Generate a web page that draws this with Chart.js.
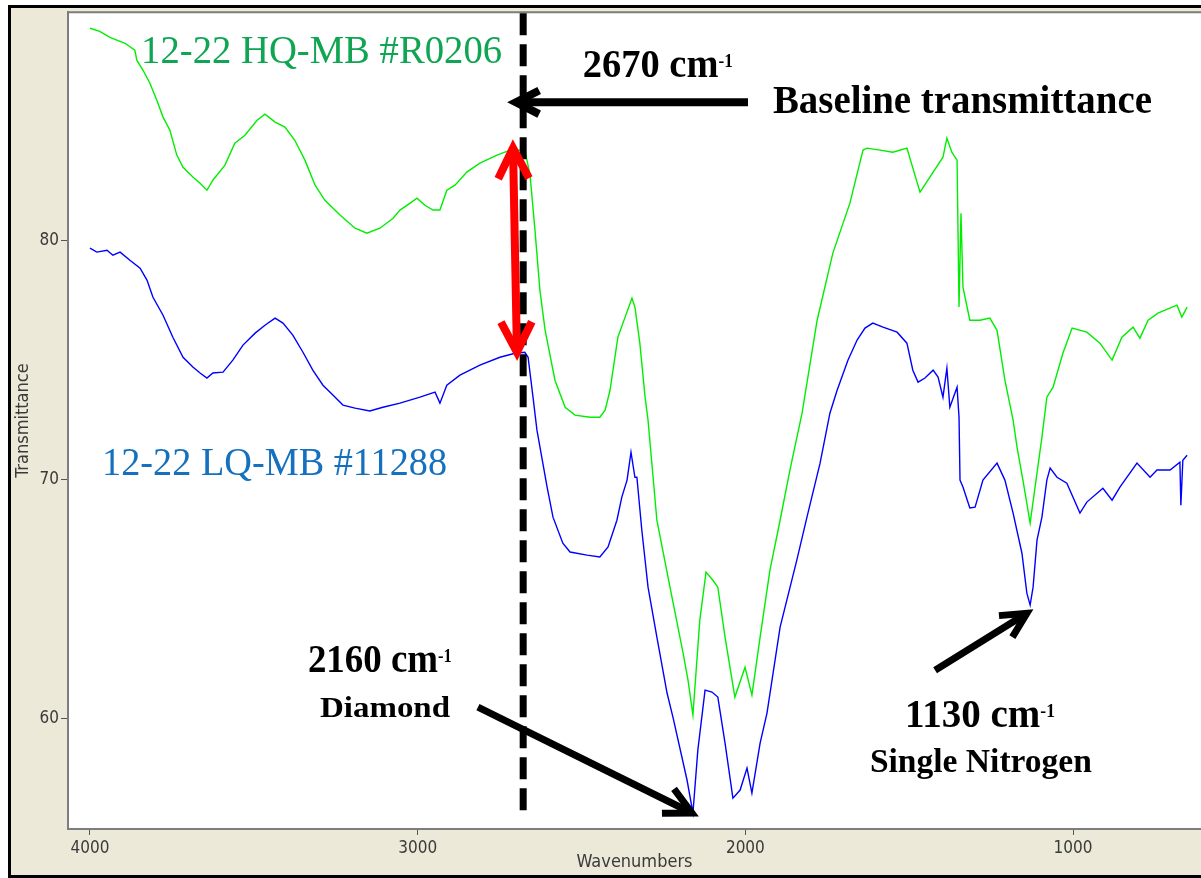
<!DOCTYPE html>
<html>
<head>
<meta charset="utf-8">
<title>FTIR spectra</title>
<script src="https://cdn.jsdelivr.net/npm/chart.js@4.4.1/dist/chart.umd.min.js"></script>
<style>
  html, body { margin: 0; padding: 0; background: #fff; }
  #frame { position: absolute; left: 8px; top: 5px; width: 1200px; height: 867px; border: 3px solid #000; background: #ECE9D8; }
  #chart6 { position: absolute; left: 0; top: 0; }
</style>
</head>
<body>
<div id="frame"></div>
<canvas id="chart6" width="1201" height="878"></canvas>
<script>
// values (wavenumber cm-1 / % transmittance)
const hqWavenumbers = [4000, 3970, 3939, 3893, 3863, 3857, 3838, 3817, 3796, 3777, 3756, 3735, 3716, 3686, 3664, 3643, 3625, 3588, 3558, 3527, 3490, 3466, 3435, 3405, 3375, 3344, 3313, 3283, 3237, 3191, 3155, 3115, 3075, 3054, 3023, 3002, 2978, 2953, 2932, 2911, 2886, 2850, 2810, 2758, 2718, 2673, 2657, 2642, 2627, 2611, 2581, 2550, 2520, 2474, 2444, 2428, 2413, 2389, 2367, 2346, 2337, 2322, 2306, 2297, 2270, 2230, 2190, 2175, 2160, 2139, 2120, 2099, 2084, 2062, 2032, 2001, 1980, 1955, 1925, 1894, 1864, 1827, 1781, 1733, 1681, 1641, 1629, 1589, 1550, 1507, 1467, 1397, 1385, 1370, 1354, 1348, 1342, 1336, 1315, 1284, 1254, 1232, 1208, 1183, 1171, 1153, 1131, 1095, 1080, 1061, 1031, 1003, 958, 918, 881, 851, 817, 796, 771, 741, 683, 668, 652];
const hqTransmittance = [88.87, 88.74, 88.49, 88.24, 87.95, 87.53, 87.11, 86.57, 85.86, 85.15, 84.60, 83.56, 83.05, 82.64, 82.38, 82.09, 82.51, 83.14, 84.06, 84.39, 85.02, 85.27, 84.94, 84.73, 84.18, 83.35, 82.30, 81.67, 81.05, 80.50, 80.29, 80.50, 80.92, 81.26, 81.55, 81.76, 81.46, 81.26, 81.26, 82.09, 82.30, 82.85, 83.22, 83.56, 83.77, 83.77, 82.72, 80.42, 77.91, 76.23, 74.14, 73.01, 72.68, 72.59, 72.59, 72.89, 73.72, 75.94, 76.78, 77.57, 77.20, 75.69, 73.43, 72.47, 68.28, 65.48, 62.72, 61.59, 60.13, 64.10, 66.11, 65.77, 65.48, 63.39, 60.88, 62.13, 60.96, 63.39, 66.19, 68.28, 70.38, 72.76, 76.65, 79.46, 81.55, 83.77, 83.85, 83.77, 83.68, 83.85, 82.01, 83.47, 84.27, 83.68, 83.35, 77.20, 81.13, 78.03, 76.65, 76.65, 76.74, 76.23, 74.14, 72.47, 71.34, 69.96, 68.16, 71.76, 73.43, 73.85, 75.27, 76.32, 76.15, 75.69, 74.98, 75.94, 76.36, 75.90, 76.65, 76.95, 77.28, 76.78, 77.20];

const lqWavenumbers = [4000, 3979, 3948, 3930, 3908, 3878, 3847, 3826, 3808, 3777, 3747, 3716, 3686, 3664, 3643, 3625, 3594, 3564, 3533, 3496, 3466, 3435, 3411, 3381, 3350, 3320, 3289, 3258, 3228, 3191, 3146, 3106, 3054, 2993, 2947, 2932, 2911, 2871, 2810, 2749, 2703, 2673, 2663, 2648, 2636, 2605, 2587, 2557, 2535, 2483, 2444, 2419, 2392, 2377, 2361, 2349, 2337, 2331, 2316, 2297, 2270, 2239, 2221, 2178, 2160, 2145, 2123, 2102, 2084, 2062, 2038, 2016, 1995, 1980, 1955, 1934, 1894, 1843, 1812, 1772, 1742, 1720, 1687, 1659, 1635, 1611, 1580, 1537, 1507, 1489, 1473, 1452, 1427, 1412, 1397, 1385, 1376, 1354, 1348, 1345, 1336, 1315, 1299, 1275, 1232, 1208, 1183, 1156, 1141, 1131, 1122, 1110, 1095, 1080, 1070, 1049, 1019, 979, 958, 909, 881, 857, 805, 765, 744, 704, 674, 671, 665, 652];
const lqTransmittance = [79.67, 79.50, 79.58, 79.37, 79.50, 79.16, 78.83, 78.33, 77.62, 76.86, 75.94, 75.10, 74.69, 74.44, 74.23, 74.44, 74.48, 74.98, 75.61, 76.11, 76.44, 76.74, 76.53, 76.03, 75.31, 74.56, 73.93, 73.51, 73.10, 72.97, 72.85, 73.01, 73.18, 73.43, 73.64, 73.18, 73.93, 74.35, 74.77, 75.10, 75.27, 75.31, 75.10, 73.43, 72.05, 69.67, 68.41, 67.32, 66.95, 66.82, 66.74, 67.16, 68.28, 69.25, 69.96, 71.13, 70.08, 70.08, 67.87, 65.48, 63.39, 61.05, 60.04, 57.41, 56.03, 58.66, 61.17, 61.09, 60.88, 58.95, 56.65, 56.99, 57.91, 56.86, 58.95, 60.21, 63.81, 66.61, 68.41, 70.67, 72.76, 73.72, 74.98, 75.82, 76.32, 76.53, 76.36, 76.15, 75.69, 74.56, 74.06, 74.23, 74.56, 74.27, 73.43, 74.64, 73.01, 73.85, 72.59, 69.96, 69.67, 68.79, 68.83, 69.96, 70.67, 69.96, 68.58, 66.90, 65.23, 64.73, 65.48, 67.45, 68.41, 69.96, 70.46, 70.08, 69.83, 68.58, 69.04, 69.62, 69.12, 69.67, 70.67, 70.08, 70.38, 70.38, 70.71, 68.91, 70.79, 71.00];

const xTicks = [4000, 3000, 2000, 1000];
const yTicks = [60, 70, 80];

const serif = "'Liberation Serif', 'DejaVu Serif', serif";
const narrow = "'Liberation Sans Narrow', 'DejaVu Sans Condensed', Arial, sans-serif";

function toPoints(xs, ys) {
  return xs.map((x, i) => ({ x: x, y: ys[i] }));
}

function arrow(ctx, x1, y1, x2, y2, color, width, headLen, both) {
  ctx.save();
  ctx.strokeStyle = color;
  ctx.lineWidth = width;
  ctx.lineCap = 'butt';
  ctx.lineJoin = 'miter';
  ctx.beginPath();
  ctx.moveTo(x1, y1);
  ctx.lineTo(x2, y2);
  ctx.stroke();
  const head = (tx, ty, fx, fy) => {
    const a = Math.atan2(fy - ty, fx - tx);
    const s = 0.47;
    ctx.beginPath();
    ctx.moveTo(tx + headLen * Math.cos(a - s), ty + headLen * Math.sin(a - s));
    ctx.lineTo(tx, ty);
    ctx.lineTo(tx + headLen * Math.cos(a + s), ty + headLen * Math.sin(a + s));
    ctx.stroke();
  };
  head(x2, y2, x1, y1);
  if (both) head(x1, y1, x2, y2);
  ctx.restore();
}

// draws a run of text parts starting at x, baseline y, squeezed to the given width
function label(ctx, parts, x, y, width, color) {
  ctx.save();
  ctx.fillStyle = color;
  ctx.textBaseline = 'alphabetic';
  ctx.textAlign = 'left';
  let total = 0;
  parts.forEach(p => { ctx.font = p.font; p.w = ctx.measureText(p.text).width; total += p.w; });
  ctx.translate(x, y);
  ctx.scale(width / total, 1);
  let cx = 0;
  parts.forEach(p => { ctx.font = p.font; ctx.fillText(p.text, cx, -(p.rise || 0)); cx += p.w; });
  ctx.restore();
}

const notes = {
  id: 'notes',
  beforeDraw(chart) {
    const { ctx, chartArea: a } = chart;
    ctx.save();
    ctx.fillStyle = '#fff';
    ctx.fillRect(a.left, a.top, a.right - a.left, a.bottom - a.top);
    ctx.strokeStyle = '#7d7d7d';
    ctx.lineWidth = 2;
    ctx.beginPath();
    ctx.moveTo(a.left, a.top);
    ctx.lineTo(a.right, a.top);
    ctx.stroke();
    ctx.restore();
  },
  afterDatasetsDraw(chart) {
    const { ctx, chartArea: a } = chart;
    const X = v => chart.scales.x.getPixelForValue(v);
    const Y = v => chart.scales.y.getPixelForValue(v);

    // dashed marker at 2670
    ctx.save();
    ctx.strokeStyle = '#000';
    ctx.lineWidth = 7;
    ctx.setLineDash([22, 9]);
    ctx.beginPath();
    ctx.moveTo(X(2678), a.top + 1);
    ctx.lineTo(X(2678), Y(55.8));
    ctx.stroke();
    ctx.restore();

    arrow(ctx, X(1992), Y(85.77), X(2700), Y(85.77), '#000', 8, 26, false);
    arrow(ctx, X(2709), Y(83.85), X(2697), Y(75.31), '#ff0000', 8, 34, true);
    arrow(ctx, X(2816), Y(60.46), X(2163), Y(56.03), '#000', 7, 30, false);
    arrow(ctx, X(1421), Y(62.0), X(1141), Y(64.39), '#000', 7, 28, false);

    const sup = txt => ({ text: txt, font: 'bold 18px ' + serif, rise: 10 });
    label(ctx, [{ text: '12-22 HQ-MB #R0206', font: '40px ' + serif }], X(3844), Y(87.41), 361, '#10a552');
    label(ctx, [{ text: '12-22 LQ-MB #11288', font: '40px ' + serif }], X(3963), Y(70.17), 345, '#1570be');
    label(ctx, [{ text: '2670 cm', font: 'bold 40px ' + serif }, sup('-1')], X(2496), Y(86.82), 150, '#000');
    label(ctx, [{ text: 'Baseline transmittance', font: 'bold 40px ' + serif }], X(1916), Y(85.31), 379, '#000');
    label(ctx, [{ text: '2160 cm', font: 'bold 40px ' + serif }, sup('-1')], X(3335), Y(61.93), 144, '#000');
    label(ctx, [{ text: 'Diamond', font: 'bold 30px ' + serif }], X(3298), Y(60.04), 130, '#000');
    label(ctx, [{ text: '1130 cm', font: 'bold 40px ' + serif }, sup('-1')], X(1513), Y(59.62), 150, '#000');
    label(ctx, [{ text: 'Single Nitrogen', font: 'bold 34px ' + serif }], X(1620), Y(57.74), 222, '#000');
  }
};

new Chart(document.getElementById('chart6'), {
  type: 'line',
  data: {
    datasets: [{
      label: '12-22 HQ-MB #R0206',
      data: toPoints(hqWavenumbers, hqTransmittance),
      borderColor: '#00ee00',
      borderWidth: 1.4,
      pointRadius: 0,
      tension: 0
    }, {
      label: '12-22 LQ-MB #11288',
      data: toPoints(lqWavenumbers, lqTransmittance),
      borderColor: '#0000ff',
      borderWidth: 1.4,
      pointRadius: 0,
      tension: 0
    }]
  },
  options: {
    responsive: false,
    animation: false,
    layout: { padding: { left: 0, right: 0, top: 12, bottom: 0 } },
    plugins: { legend: { display: false }, tooltip: { enabled: false } },
    scales: {
      x: {
        type: 'linear',
        reverse: true,
        min: 609.6,
        max: 4067,
        afterBuildTicks: s => { s.ticks = xTicks.map(v => ({ value: v })); },
        afterFit: s => { s.height = 49; },
        grid: { drawOnChartArea: false, drawTicks: true, tickLength: 6, tickColor: '#555', tickWidth: 1 },
        border: { color: '#7d7d7d', width: 2 },
        ticks: { color: '#3a3a3a', font: { family: narrow, size: 17 }, padding: 3, maxRotation: 0, autoSkip: false, callback: v => String(v) },
        title: { display: true, text: 'Wavenumbers', color: '#3a3a3a', font: { family: narrow, size: 18 }, padding: { top: 0, bottom: 5 } }
      },
      y: {
        type: 'linear',
        min: 55.36,
        max: 89.54,
        afterBuildTicks: s => { s.ticks = yTicks.map(v => ({ value: v })); },
        afterFit: s => { s.width = 68; },
        grid: { drawOnChartArea: false, drawTicks: true, tickLength: 7, tickColor: '#555', tickWidth: 1 },
        border: { color: '#7d7d7d', width: 2 },
        ticks: { color: '#3a3a3a', font: { family: narrow, size: 17 }, padding: 2, callback: v => String(v) },
        title: { display: true, text: 'Transmittance', color: '#3a3a3a', font: { family: narrow, size: 18 }, padding: { top: 13, bottom: 0 } }
      }
    }
  },
  plugins: [notes]
});
</script>
</body>
</html>
